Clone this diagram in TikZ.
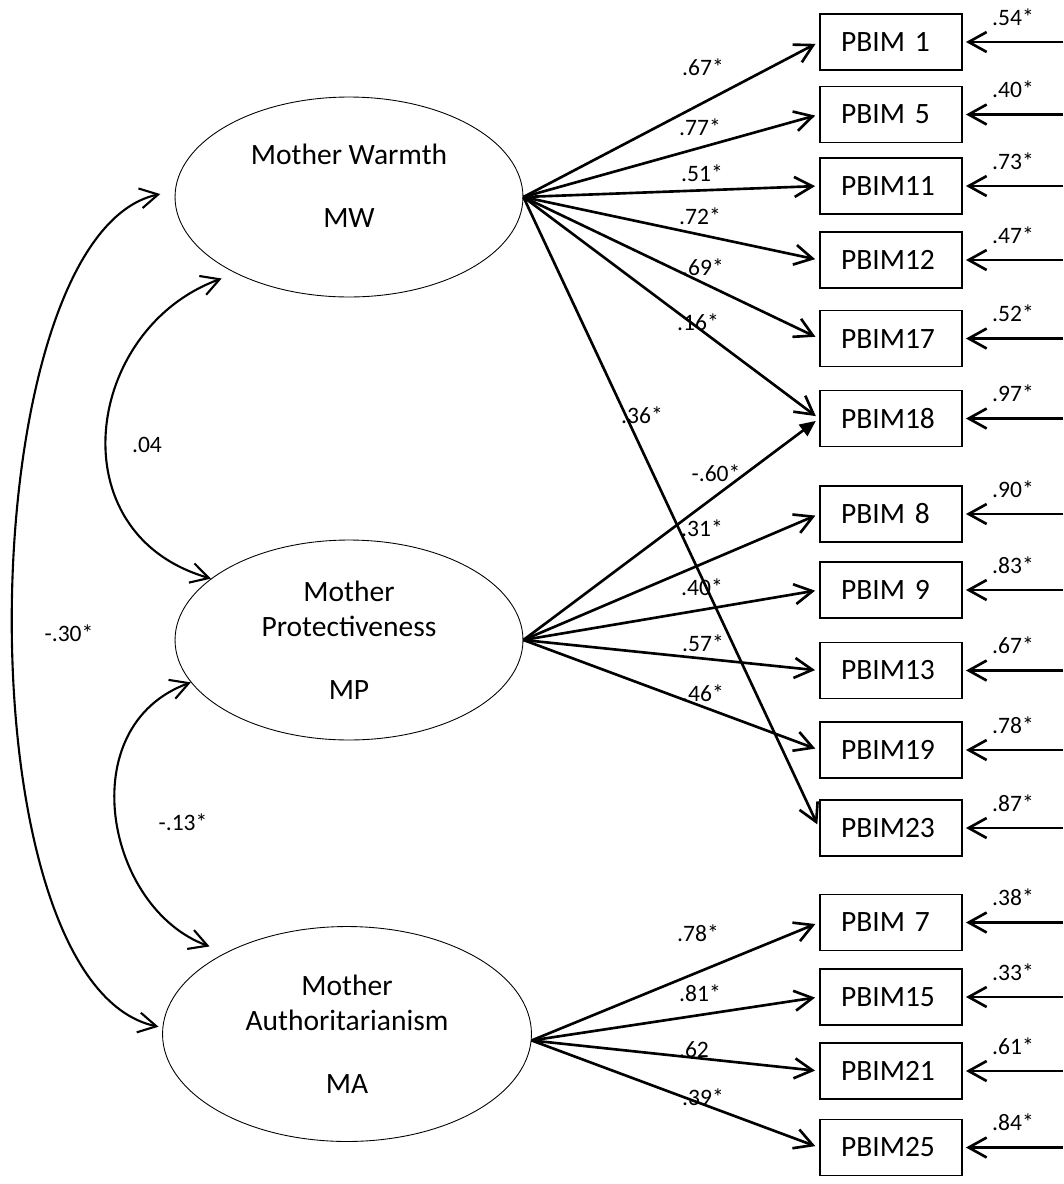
\documentclass[tikz,border=0pt]{standalone}
\usepackage{fontspec}
\setmainfont{Carlito}
\usetikzlibrary{shapes.geometric, arrows.meta}

\begin{document}
\begin{tikzpicture}[x=0.02cm, y=0.02cm, >={Straight Barb[length=0.36cm, width=0.4cm]},
  factor/.style={draw, ellipse, line width=0.5pt, inner sep=0, align=center, minimum width=6.96cm, minimum height=4cm, font=\fontsize{16.8}{19.9}\selectfont},
  item/.style={draw, line width=1.1pt, minimum height=1.12cm, text width=2cm, inner xsep=0.42cm, inner ysep=0, align=left, font=\fontsize{16.8}{19.9}\selectfont},
  coef/.style={inner sep=0, font=\fontsize{13.4}{15}\selectfont},
  load/.style={line width=1.5pt, ->, shorten >=0.08cm},
  resid/.style={line width=1.5pt, ->, shorten >=0.06cm},
  cov/.style={line width=1.2pt, <->}]
\useasboundingbox (0,0) rectangle (1063,-1184);

% Factors
\node[factor, text depth=0.45cm] (MW) at (349,-197) {Mother Warmth\\[0.56cm]MW};
\node[factor] (MP) at (349,-640) {Mother\\Protectiveness\\[0.56cm]MP};
\node[factor, minimum width=7.38cm, minimum height=4.3cm] (MA) at (347,-1034) {Mother\\Authoritarianism\\[0.56cm]MA};

% Items
\node[item] (b1) at (891,-42) {PBIM 1};
\node[item] (b5) at (891,-114.5) {PBIM 5};
\node[item] (b11) at (891,-186) {PBIM11};
\node[item] (b12) at (891,-260) {PBIM12};
\node[item] (b17) at (891,-338.5) {PBIM17};
\node[item] (b18) at (891,-418.5) {PBIM18};
\node[item] (b8) at (891,-514) {PBIM 8};
\node[item] (b9) at (891,-590) {PBIM 9};
\node[item] (b13) at (891,-670.5) {PBIM13};
\node[item] (b19) at (891,-750) {PBIM19};
\node[item] (b23) at (891,-828) {PBIM23};
\node[item] (b7) at (891,-922.5) {PBIM 7};
\node[item] (b15) at (891,-997) {PBIM15};
\node[item] (b21) at (891,-1071) {PBIM21};
\node[item] (b25) at (891,-1147.5) {PBIM25};

% Warmth loadings
\draw[load] (MW.east) -- (b1.west);  \node[coef] (w1) at (703,-67) {.67*};
\draw[load] (MW.east) -- (b5.west);  \node[coef] (w5) at (700,-127) {.77*};
\draw[load] (MW.east) -- (b11.west); \node[coef] (w11) at (702,-173) {.51*};
\draw[load] (MW.east) -- (b12.west); \node[coef] (w12) at (700,-216) {.72*};
\draw[load] (MW.east) -- (b17.west); \node[coef] (w17) at (703,-267) {.69*};
\draw[load] (MW.east) -- (b18.west); \node[coef] (w18) at (698,-322) {.16*};
\draw[load] (MW.east) -- (b23.west); \node[coef] (w23) at (642,-415) {.36*};

% Protectiveness loadings
\draw[line width=1.5pt, -{Triangle[length=0.32cm, width=0.28cm]}, shorten >=0.08cm] (MP.east) -- (b18.west);
\node[coef] (p18) at (716,-473) {-.60*};
\draw[load] (MP.east) -- (b8.west);  \node[coef] (p8) at (702,-528) {.31*};
\draw[load] (MP.east) -- (b9.west);  \node[coef] (p9) at (702,-587) {.40*};
\draw[load] (MP.east) -- (b13.west); \node[coef] (p13) at (703,-643) {.57*};
\draw[load] (MP.east) -- (b19.west); \node[coef] (p19) at (703,-693) {.46*};

% Authoritarianism loadings
\draw[load] (MA.-2) -- (b7.west);  \node[coef] (a7) at (698,-933) {.78*};
\draw[load] (MA.-2) -- (b15.west); \node[coef] (a15) at (700,-993) {.81*};
\draw[load] (MA.-2) -- (b21.west); \node[coef] (a21) at (694,-1050) {.62};
\draw[load] (MA.-2) -- (b25.west); \node[coef] (a25) at (703,-1097) {.39*};

% Residuals
\coordinate (e1) at (1063,-42);     \draw[resid] (e1) -- (b1.east) node[coef, midway, above=0.31cm] (r1) {.54*};
\coordinate (e5) at (1063,-114.5);  \draw[resid] (e5) -- (b5.east) node[coef, midway, above=0.31cm] (r5) {.40*};
\coordinate (e11) at (1063,-186);   \draw[resid] (e11) -- (b11.east) node[coef, midway, above=0.31cm] (r11) {.73*};
\coordinate (e12) at (1063,-260);   \draw[resid] (e12) -- (b12.east) node[coef, midway, above=0.31cm] (r12) {.47*};
\coordinate (e17) at (1063,-338.5); \draw[resid] (e17) -- (b17.east) node[coef, midway, above=0.31cm] (r17) {.52*};
\coordinate (e18) at (1063,-418.5); \draw[resid] (e18) -- (b18.east) node[coef, midway, above=0.31cm] (r18) {.97*};
\coordinate (e8) at (1063,-514);    \draw[resid] (e8) -- (b8.east) node[coef, midway, above=0.31cm] (r8) {.90*};
\coordinate (e9) at (1063,-590);    \draw[resid] (e9) -- (b9.east) node[coef, midway, above=0.31cm] (r9) {.83*};
\coordinate (e13) at (1063,-670.5); \draw[resid] (e13) -- (b13.east) node[coef, midway, above=0.31cm] (r13) {.67*};
\coordinate (e19) at (1063,-750);   \draw[resid] (e19) -- (b19.east) node[coef, midway, above=0.31cm] (r19) {.78*};
\coordinate (e23) at (1063,-828);   \draw[resid] (e23) -- (b23.east) node[coef, midway, above=0.31cm] (r23) {.87*};
\coordinate (e7) at (1063,-922.5);  \draw[resid] (e7) -- (b7.east) node[coef, midway, above=0.31cm] (r7) {.38*};
\coordinate (e15) at (1063,-997);   \draw[resid] (e15) -- (b15.east) node[coef, midway, above=0.31cm] (r15) {.33*};
\coordinate (e21) at (1063,-1071);  \draw[resid] (e21) -- (b21.east) node[coef, midway, above=0.31cm] (r21) {.61*};
\coordinate (e25) at (1063,-1147.5);\draw[resid] (e25) -- (b25.east) node[coef, midway, above=0.31cm] (r25) {.84*};

% Covariances
\draw[cov, shorten <=0.3cm] (MW.214) to[out=200, in=164, looseness=1.35] (MP.156);
\node[coef] (c1) at (147,-445) {.04};
\draw[cov, shorten >=0.35cm] (MP.195) to[out=200, in=160, looseness=1.2] (MA.146);
\node[coef] (c2) at (183,-822) {-.13*};
\draw[cov, shorten <=0.3cm, shorten >=0.08cm] (MW.178) to[out=192, in=168, looseness=0.64] (MA.178);
\node[coef] (c3) at (69,-633) {-.30*};
\end{tikzpicture}
\end{document}
